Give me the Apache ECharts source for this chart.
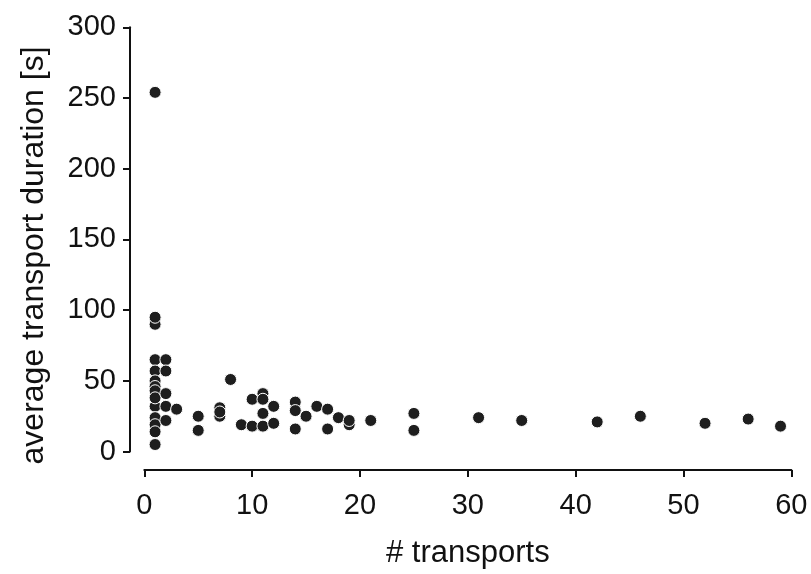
<!DOCTYPE html>
<html>
<head>
<meta charset="utf-8">
<script src="https://cdn.jsdelivr.net/npm/echarts@6/dist/echarts.min.js"></script>
<style>html,body{margin:0;padding:0;background:#fff;}#c{width:811px;height:574px;}</style>
</head>
<body>
<div id="c"></div>
<script>
// number of transports (x) and average transport duration in seconds (y)
const transports = [1, 1, 1, 1, 1, 1, 1, 1, 1, 1, 1, 1, 1, 1,
  2, 2, 2, 2, 2, 3, 5, 5, 7, 7, 7, 8, 9, 10, 10, 11, 11, 11, 11, 12, 12,
  14, 14, 14, 15, 16, 17, 17, 18, 19, 19, 21, 25, 25, 31, 35, 42, 46, 52, 56, 59];
const durations = [254, 90, 95, 65, 57, 50, 46, 43, 32, 24, 19, 14, 5, 38,
  65, 57, 41, 32, 22, 30, 25, 15, 31, 25, 28, 51, 19, 37, 18, 41, 37, 27, 18, 32, 20,
  35, 29, 16, 25, 32, 30, 16, 24, 19, 22, 22, 27, 15, 24, 22, 21, 25, 20, 23, 18];
const xTicks = [0, 10, 20, 30, 40, 50, 60];
const yTicks = [0, 50, 100, 150, 200, 250, 300];

const points = transports.map((x, i) => [x, durations[i]]);
const font = 'Liberation Sans, Arial, sans-serif';

const chart = echarts.init(document.getElementById('c'), null, {renderer: 'canvas'});
chart.setOption({
  animation: false,
  backgroundColor: '#ffffff',
  grid: {left: 144.3, right: 19.7, top: 27.3, bottom: 120.7, containLabel: false},
  xAxis: {
    type: 'value',
    min: xTicks[0], max: xTicks[xTicks.length - 1], interval: 10,
    offset: 18.4,
    name: '# transports', nameLocation: 'middle', nameGap: 68,
    nameTextStyle: {fontFamily: font, fontSize: 31, color: '#111'},
    axisLine: {show: true, onZero: false, lineStyle: {color: '#111', width: 2}},
    axisTick: {show: true, length: 7, lineStyle: {color: '#111', width: 2}},
    axisLabel: {fontFamily: font, fontSize: 29, color: '#111', margin: 21},
    splitLine: {show: false}
  },
  yAxis: {
    type: 'value',
    min: yTicks[0], max: yTicks[yTicks.length - 1], interval: 50,
    offset: 14.3,
    name: 'average transport duration [s]', nameLocation: 'middle', nameGap: 80,
    nameTextStyle: {fontFamily: font, fontSize: 32, color: '#111', padding: [0, 32, 0, 0]},
    axisLine: {show: true, onZero: false, lineStyle: {color: '#111', width: 2}},
    axisTick: {show: true, length: 7, lineStyle: {color: '#111', width: 2}},
    axisLabel: {fontFamily: font, fontSize: 29, color: '#111', margin: 14},
    splitLine: {show: false}
  },
  series: [{
    type: 'scatter',
    data: points,
    symbol: 'circle',
    symbolSize: 12,
    itemStyle: {color: '#1e1e1e', borderColor: '#ffffff', borderWidth: 1, opacity: 1},
    emphasis: {disabled: true}
  }]
});
</script>
</body>
</html>
